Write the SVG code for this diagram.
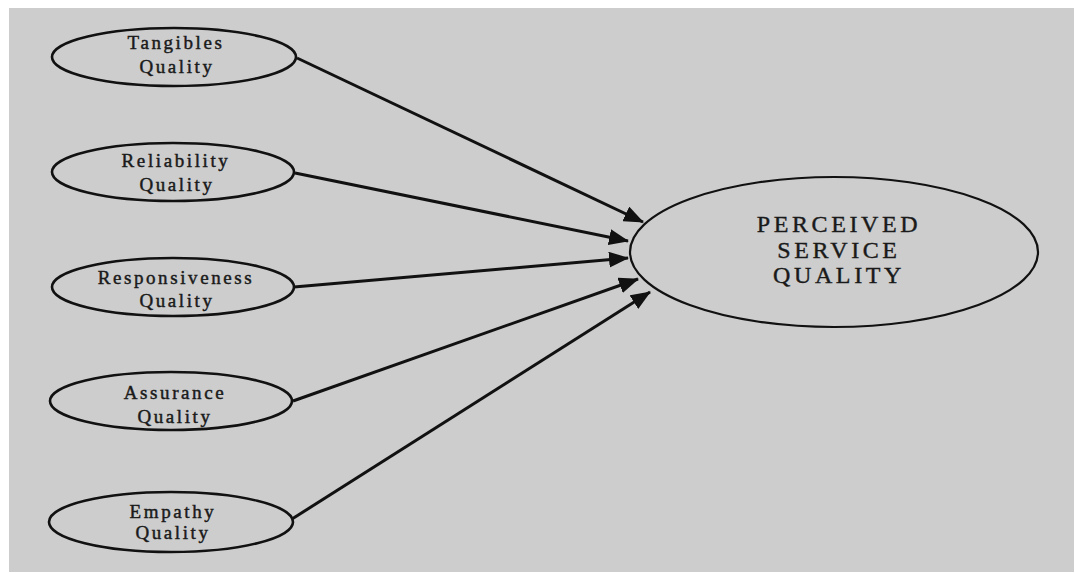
<svg xmlns="http://www.w3.org/2000/svg" width="1075" height="573" viewBox="0 0 1075 573">
<style>
.node ellipse{fill:none;stroke:#111;stroke-width:2.6}
.lbl{font-family:"Liberation Serif","Times New Roman",serif;font-size:19px;letter-spacing:2.6px;fill:#1a1a1a;stroke:#1a1a1a;stroke-width:0.45;text-anchor:middle}
.big{font-family:"Liberation Serif","Times New Roman",serif;font-size:24px;letter-spacing:3.6px;fill:#1a1a1a;stroke:#1a1a1a;stroke-width:0.4;text-anchor:middle}
.edge{stroke:#111;stroke-width:3;fill:none;marker-end:url(#ah)}
</style>
<defs>
<marker id="ah" markerUnits="userSpaceOnUse" markerWidth="20" markerHeight="16" refX="19" refY="8" orient="auto">
<path d="M0,0 L20,8 L0,16 Z" fill="#111"/>
</marker>
</defs>
<rect x="0" y="0" width="1075" height="573" fill="#fff"/>
<rect x="9" y="8" width="1065" height="564" fill="#cdcdcd"/>
<g id="connectors">
<line class="edge" x1="297" y1="58" x2="643" y2="222"/>
<line class="edge" x1="295" y1="173" x2="628" y2="241"/>
<line class="edge" x1="294" y1="287" x2="628" y2="258"/>
<line class="edge" x1="293" y1="401" x2="638" y2="279"/>
<line class="edge" x1="292" y1="519" x2="650" y2="292"/>
</g>
<g id="tangibles" class="node">
<ellipse cx="174" cy="57" rx="122" ry="29"/>
<text class="lbl" x="176" y="49">Tangibles</text>
<text class="lbl" x="177" y="73">Quality</text>
</g>
<g id="reliability" class="node">
<ellipse cx="173" cy="172" rx="121" ry="29"/>
<text class="lbl" x="176" y="167">Reliability</text>
<text class="lbl" x="177" y="191">Quality</text>
</g>
<g id="responsiveness" class="node">
<ellipse cx="173" cy="287" rx="121" ry="29"/>
<text class="lbl" x="176" y="284">Responsiveness</text>
<text class="lbl" x="177" y="307">Quality</text>
</g>
<g id="assurance" class="node">
<ellipse cx="171" cy="401" rx="121" ry="29"/>
<text class="lbl" x="175" y="399">Assurance</text>
<text class="lbl" x="175" y="423">Quality</text>
</g>
<g id="empathy" class="node">
<ellipse cx="171" cy="522" rx="122" ry="30"/>
<text class="lbl" x="173" y="518">Empathy</text>
<text class="lbl" x="173" y="539">Quality</text>
</g>
<g id="perceived" class="node">
<ellipse cx="834" cy="252" rx="204" ry="75" style="stroke-width:2.2"/>
<text class="big" x="839" y="232">PERCEIVED</text>
<text class="big" x="839" y="258">SERVICE</text>
<text class="big" x="839" y="283">QUALITY</text>
</g>
</svg>
